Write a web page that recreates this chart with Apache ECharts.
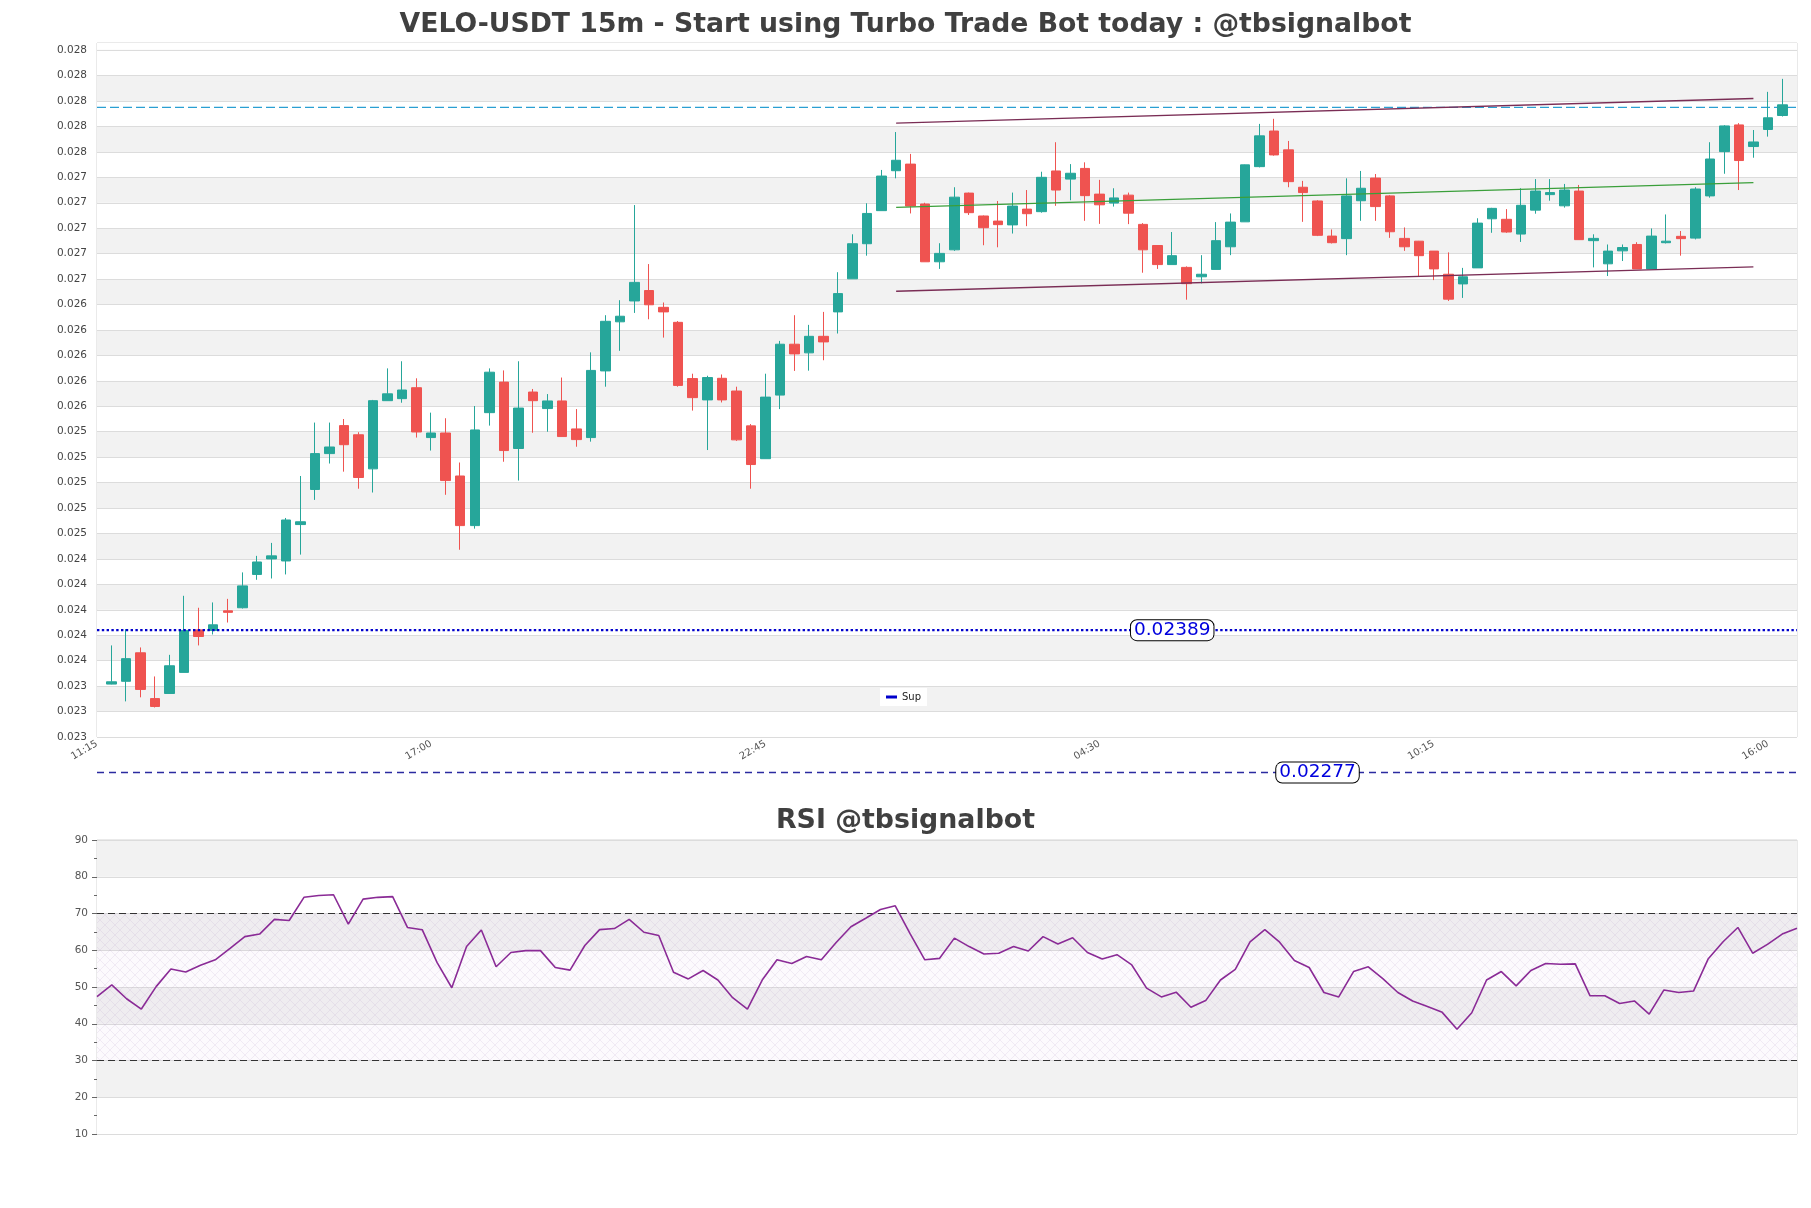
<!DOCTYPE html>
<html><head><meta charset="utf-8">
<script src="https://cdn.jsdelivr.net/npm/echarts@6/dist/echarts.min.js"></script>
<style>html,body{margin:0;padding:0;background:#fff}#c{width:1811px;height:1208px}</style>
</head><body><div id="c"></div>
<script>
// ---------------- data ----------------
const TICK_LABELS = ['11:15','17:00','22:45','04:30','10:15','16:00'];
const TICK_EVERY = 23;
const OPEN = [0.023466,0.023488,0.023712,0.023352,0.023392,0.023558,0.023892,0.023888,0.024042,0.024066,
0.024328,0.024450,0.024434,0.024720,0.024996,0.025278,0.025498,0.025426,0.025158,0.025694,
0.025710,0.025796,0.025404,0.025440,0.025102,0.024712,0.025600,0.025840,0.025318,0.025762,
0.025632,0.025692,0.025472,0.025404,0.025928,0.026314,0.026478,0.026560,0.026428,0.026310,
0.025868,0.025700,0.025870,0.025770,0.025496,0.025238,0.025738,0.026138,0.026070,0.026200,
0.026392,0.026652,0.026928,0.027188,0.027502,0.027554,0.027240,0.026786,0.026880,0.027326,
0.027146,0.027106,0.027076,0.027200,0.027180,0.027500,0.027436,0.027520,0.027318,0.027248,
0.027310,0.027080,0.026914,0.026764,0.026742,0.026668,0.026726,0.026904,0.027100,0.027534,
0.027814,0.027666,0.027372,0.027264,0.026988,0.026968,0.027266,0.027444,0.027304,0.026970,
0.026948,0.026870,0.026688,0.026612,0.026738,0.027124,0.027120,0.027004,0.027192,0.027314,
0.027226,0.027342,0.026952,0.026770,0.026872,0.026922,0.026730,0.026936,0.026986,0.026972,
0.027304,0.027652,0.027862,0.027692,0.027826,0.027936];
const HIGH = [0.023770,0.023898,0.023754,0.023526,0.023696,0.024160,0.024066,0.024108,0.024136,0.024344,
0.024474,0.024576,0.024772,0.025102,0.025522,0.025522,0.025550,0.025446,0.025700,0.025948,
0.026004,0.025870,0.025600,0.025556,0.025208,0.025652,0.025948,0.025932,0.026004,0.025786,
0.025746,0.025876,0.025628,0.026074,0.026366,0.026484,0.027232,0.026768,0.026466,0.026320,
0.025906,0.025890,0.025900,0.025804,0.025510,0.025906,0.026164,0.026366,0.026290,0.026392,
0.026704,0.027002,0.027246,0.027508,0.027806,0.027634,0.027250,0.026932,0.027372,0.027330,
0.027150,0.027264,0.027330,0.027350,0.027494,0.027726,0.027554,0.027568,0.027430,0.027364,
0.027330,0.027090,0.026914,0.027020,0.026750,0.026838,0.027098,0.027166,0.027550,0.027870,
0.027910,0.027736,0.027422,0.027270,0.027040,0.027442,0.027500,0.027476,0.027310,0.027056,
0.026950,0.026870,0.026860,0.026738,0.027128,0.027210,0.027200,0.027364,0.027436,0.027436,
0.027398,0.027390,0.027002,0.026922,0.026922,0.026940,0.027048,0.027158,0.027028,0.027372,
0.027726,0.027860,0.027876,0.027822,0.028122,0.028224];
const LOW = [0.023464,0.023330,0.023362,0.023282,0.023392,0.023558,0.023770,0.023856,0.023950,0.024060,
0.024286,0.024296,0.024328,0.024484,0.024914,0.025200,0.025136,0.025002,0.024972,0.025694,
0.025678,0.025404,0.025302,0.024954,0.024522,0.024688,0.025498,0.025214,0.025066,0.025442,
0.025450,0.025412,0.025332,0.025372,0.025804,0.026086,0.026384,0.026334,0.026190,0.025804,
0.025616,0.025306,0.025680,0.025378,0.025002,0.025238,0.025628,0.025928,0.025930,0.026012,
0.026222,0.026652,0.026834,0.027188,0.027442,0.027166,0.026786,0.026730,0.026872,0.027154,
0.026916,0.026900,0.027008,0.027066,0.027172,0.027226,0.027270,0.027108,0.027084,0.027220,
0.027082,0.026700,0.026730,0.026764,0.026488,0.026616,0.026726,0.026838,0.027100,0.027528,
0.027620,0.027372,0.027100,0.026988,0.026930,0.026838,0.027108,0.027108,0.026974,0.026872,
0.026674,0.026642,0.026478,0.026502,0.026738,0.027014,0.027014,0.026942,0.027164,0.027266,
0.027212,0.026960,0.026742,0.026674,0.026792,0.026730,0.026730,0.026930,0.026834,0.026962,
0.027290,0.027478,0.027350,0.027604,0.027770,0.027928];
const CLOSE = [0.023484,0.023666,0.023424,0.023290,0.023610,0.023888,0.023840,0.023932,0.024030,0.024238,
0.024426,0.024474,0.024756,0.024742,0.025278,0.025330,0.025348,0.025090,0.025694,0.025748,
0.025778,0.025448,0.025440,0.025066,0.024712,0.025464,0.025918,0.025302,0.025636,0.025694,
0.025692,0.025412,0.025388,0.025932,0.026318,0.026358,0.026624,0.026448,0.026392,0.025814,
0.025718,0.025876,0.025700,0.025386,0.025192,0.025722,0.026138,0.026062,0.026200,0.026156,
0.026536,0.026928,0.027166,0.027460,0.027584,0.027224,0.026786,0.026852,0.027294,0.027172,
0.027054,0.027078,0.027224,0.027164,0.027450,0.027350,0.027482,0.027306,0.027234,0.027288,
0.027168,0.026880,0.026764,0.026834,0.026614,0.026688,0.026952,0.027098,0.027548,0.027776,
0.027626,0.027416,0.027330,0.026994,0.026936,0.027304,0.027364,0.027220,0.027022,0.026904,
0.026834,0.026730,0.026492,0.026668,0.027090,0.027206,0.027020,0.027230,0.027342,0.027330,
0.027350,0.026960,0.026970,0.026870,0.026898,0.026730,0.026988,0.026948,0.026968,0.027358,
0.027594,0.027854,0.027582,0.027728,0.027918,0.028020];
const RSI = [47.4,50.6,46.8,44.0,50.1,54.9,54.1,55.9,57.4,60.5,
63.7,64.4,68.4,68.1,74.4,74.9,75.1,67.1,73.9,74.4,
74.6,66.2,65.6,56.7,49.8,61.0,65.5,55.5,59.4,59.9,
59.9,55.3,54.6,61.3,65.6,65.9,68.4,64.9,64.0,54.0,
52.2,54.5,51.9,47.1,44.0,51.9,57.4,56.4,58.3,57.4,
62.1,66.4,68.7,71.1,72.1,64.5,57.4,57.8,63.3,61.0,
59.0,59.2,61.0,59.8,63.7,61.7,63.4,59.4,57.6,58.8,
56.0,49.7,47.3,48.6,44.5,46.3,51.9,54.8,62.3,65.6,
62.2,57.2,55.3,48.5,47.3,54.2,55.5,52.2,48.5,46.2,
44.7,43.1,38.5,43.0,51.9,54.2,50.3,54.5,56.4,56.2,
56.3,47.6,47.6,45.5,46.2,42.6,49.2,48.5,48.9,57.7,
62.3,66.2,59.2,61.6,64.4,66.0];
const SUP_LEVEL = 0.02389;
const LOW_LEVEL = 0.02277;
const RES_LEVEL = 0.02800;
const CH_X = [55, 114];
const CH_UPPER = [0.027876, 0.028070];
const CH_MID = [0.027214, 0.027408];
const CH_LOWER = [0.026554, 0.026746];
const RSI_LEVELS = [70, 30];
const RSI_ZONE = [30, 70];

// ---------------- axis setup ----------------
const Y_MIN = 0.02305, Y_STEP = 0.0002, Y_TICKS = 27;
const Y_TOP_TICK = Y_MIN + Y_STEP * Y_TICKS;
const Y_MAX = 0.028506;
const N = OPEN.length;
const X_END = N + 1;
const xCats = Array.from({length: N + 2}, (_, i) => String(i));
const rsiCats = RSI.map((_, i) => String(i));
const candles = OPEN.map((o, i) => [i + 1, o, CLOSE[i], LOW[i], HIGH[i]]);
const rsiData = RSI.map((v, i) => [i, v]);
const hLine = level => [[0, level], [X_END, level]];
const SUP_LABEL_X = 74, LOW_LABEL_X = 84;

const FONT = 'DejaVu Sans';
const G_LEFT = 97, G_W = 1700;

function hatch() {
  const c = document.createElement('canvas');
  c.width = c.height = 10;
  const g = c.getContext('2d');
  g.fillStyle = 'rgba(200,160,225,0.05)';
  g.fillRect(0, 0, 10, 10);
  g.strokeStyle = 'rgba(160,130,185,0.22)';
  g.lineWidth = 0.6;
  g.beginPath();
  g.moveTo(0, 0); g.lineTo(10, 10);
  g.moveTo(10, 0); g.lineTo(0, 10);
  g.stroke();
  return c;
}

const chart = echarts.init(document.getElementById('c'), null, {renderer: 'canvas'});
const option = {
  animation: false,
  backgroundColor: '#ffffff',
  title: [
    {text: 'VELO-USDT 15m - Start using Turbo Trade Bot today : @tbsignalbot', left: 'center', top: 7,
     textStyle: {fontFamily: FONT, fontSize: 26.7, fontWeight: 'bold', color: '#404040'}},
    {text: 'RSI @tbsignalbot', left: 'center', top: 803,
     textStyle: {fontFamily: FONT, fontSize: 26.8, fontWeight: 'bold', color: '#404040'}}
  ],
  legend: {
    data: ['Sup'], left: 880, top: 688, backgroundColor: '#ffffff', padding: [4, 6],
    icon: 'rect', itemWidth: 11, itemHeight: 3,
    textStyle: {fontFamily: FONT, fontSize: 10, color: '#222'}
  },
  grid: [
    {left: G_LEFT, top: 43, width: G_W, height: 694, show: true, borderColor: '#d4d4d4', borderWidth: 1, backgroundColor: 'transparent'},
    {left: G_LEFT, top: 840, width: G_W, height: 294, show: true, borderColor: '#d4d4d4', borderWidth: 1, backgroundColor: 'transparent'}
  ],
  xAxis: [
    {type: 'category', gridIndex: 0, data: xCats, boundaryGap: false,
     axisLine: {show: false}, axisTick: {show: false}, splitLine: {show: false},
     axisLabel: {interval: TICK_EVERY - 1, rotate: 30, margin: 6, fontFamily: FONT, fontSize: 10, color: '#555',
       formatter: (v, idx) => (idx % TICK_EVERY === 0 && TICK_LABELS[idx / TICK_EVERY]) || ''}},
    {type: 'category', gridIndex: 1, data: rsiCats, boundaryGap: false,
     axisLine: {show: false}, axisTick: {show: false}, axisLabel: {show: false}, splitLine: {show: false}}
  ],
  yAxis: [
    {type: 'value', gridIndex: 0, min: Y_MIN, max: Y_MAX, interval: Y_STEP, scale: true,
     axisLine: {show: false}, axisTick: {show: false},
     axisLabel: {margin: 10, fontFamily: FONT, fontSize: 10.5, color: '#444',
       formatter: v => { const k = (v - Y_MIN) / Y_STEP; return Math.abs(k - Math.round(k)) < 0.02 && k < Y_TICKS + 0.5 ? v.toFixed(3) : ''; }},
     splitLine: {show: true, lineStyle: {color: '#dcdcdc', width: 1}},
     splitArea: {show: true, areaStyle: {color: ['#ffffff', '#f2f2f2']}}},
    {type: 'value', gridIndex: 1, min: 10, max: 90, interval: 10,
     axisLine: {show: false},
     axisTick: {show: true, length: 5, lineStyle: {color: '#666'}},
     minorTick: {show: true, splitNumber: 2, length: 3, lineStyle: {color: '#666'}},
     axisLabel: {margin: 9, fontFamily: FONT, fontSize: 10.5, color: '#555'},
     splitLine: {show: true, lineStyle: {color: '#dcdcdc', width: 1}},
     splitArea: {show: true, areaStyle: {color: ['#ffffff', '#f2f2f2']}}}
  ],
  series: [
    {type: 'line', name: 'TopPad', xAxisIndex: 0, yAxisIndex: 0, data: hLine(Y_MAX), symbol: 'none', silent: true,
     lineStyle: {width: 0, opacity: 0}, z: 1,
     markArea: {silent: true, itemStyle: {color: '#ffffff'},
       data: [[{yAxis: Y_TOP_TICK + 0.000003}, {yAxis: Y_MAX}]]}},
    {type: 'candlestick', name: 'Price', xAxisIndex: 0, yAxisIndex: 0, data: candles,
     encode: {x: 0, y: [1, 2, 3, 4]}, barWidth: 10, z: 3,
     itemStyle: {color: '#26a69a', color0: '#ef5350', borderColor: '#26a69a', borderColor0: '#ef5350', borderWidth: 1}},
    {type: 'line', name: 'Res', xAxisIndex: 0, yAxisIndex: 0, data: hLine(RES_LEVEL), symbol: 'none', silent: true,
     lineStyle: {color: '#2a9fd2', type: [9, 4], width: 1.3}, z: 2},
    {type: 'line', name: 'Upper', xAxisIndex: 0, yAxisIndex: 0, symbol: 'none', silent: true, z: 4,
     data: [[CH_X[0], CH_UPPER[0]], [CH_X[1], CH_UPPER[1]]], lineStyle: {color: '#7a2d55', width: 1.4}},
    {type: 'line', name: 'Mid', xAxisIndex: 0, yAxisIndex: 0, symbol: 'none', silent: true, z: 4,
     data: [[CH_X[0], CH_MID[0]], [CH_X[1], CH_MID[1]]], lineStyle: {color: '#3a9f3a', width: 1.1}},
    {type: 'line', name: 'Lower', xAxisIndex: 0, yAxisIndex: 0, symbol: 'none', silent: true, z: 4,
     data: [[CH_X[0], CH_LOWER[0]], [CH_X[1], CH_LOWER[1]]], lineStyle: {color: '#7a2d55', width: 1.4}},
    {type: 'line', name: 'Sup', xAxisIndex: 0, yAxisIndex: 0, data: hLine(SUP_LEVEL), color: '#0000cc', symbol: 'none', silent: true, z: 4,
     lineStyle: {color: '#0000cc', type: 'dotted', width: 2.4},
     markPoint: {silent: true, symbol: 'rect', symbolSize: 0,
       data: [{coord: [SUP_LABEL_X, SUP_LEVEL]}],
       label: {show: true, position: 'inside', formatter: String(SUP_LEVEL), fontFamily: FONT, fontSize: 18.5, color: '#0000dd',
         backgroundColor: '#ffffff', borderColor: '#000', borderWidth: 1, borderRadius: 6, padding: [1, 3, 0, 3]}}},
    {type: 'line', name: 'RSI', xAxisIndex: 1, yAxisIndex: 1, data: rsiData, symbol: 'none', silent: true,
     lineStyle: {color: '#8a2b96', width: 1.6}, z: 5,
     markArea: {silent: true, itemStyle: {color: {image: hatch(), repeat: 'repeat'}},
       data: [[{yAxis: RSI_ZONE[0]}, {yAxis: RSI_ZONE[1]}]]},
     markLine: {silent: true, symbol: 'none', label: {show: false},
       lineStyle: {color: '#333', type: [7, 4], width: 1.2},
       data: RSI_LEVELS.map(v => ({yAxis: v}))}}
  ]
};
chart.setOption(option);

// level below the plotted range, placed through the chart's own scale
const pL = chart.convertToPixel({gridIndex: 0}, [0, LOW_LEVEL]);
const pR = chart.convertToPixel({gridIndex: 0}, [X_END, LOW_LEVEL]);
const pT = chart.convertToPixel({gridIndex: 0}, [LOW_LABEL_X, LOW_LEVEL]);
chart.setOption({graphic: [
  {type: 'line', silent: true, shape: {x1: pL[0], y1: pL[1], x2: pR[0], y2: pR[1]},
   style: {stroke: '#2b2ba0', lineWidth: 1.5, lineDash: [7, 5]}},
  {type: 'text', silent: true, x: pT[0], y: pT[1], z: 10,
   style: {text: String(LOW_LEVEL), fill: '#0000dd', font: '18.5px "DejaVu Sans"', align: 'center', verticalAlign: 'middle',
     backgroundColor: '#ffffff', borderColor: '#000', borderWidth: 1, borderRadius: 6, padding: [1, 3, 0, 3]}}
]});
</script></body></html>
